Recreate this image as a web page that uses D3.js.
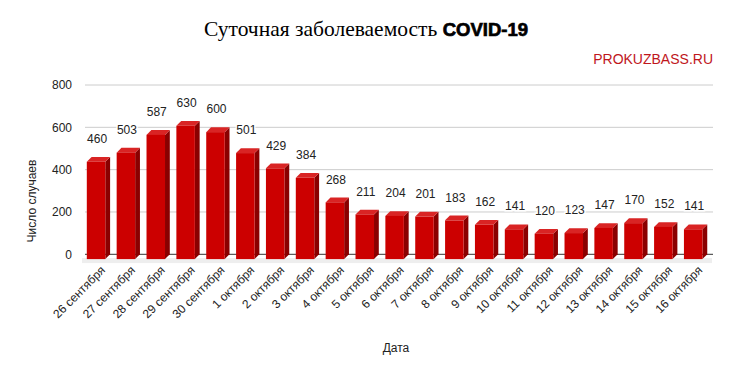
<!DOCTYPE html>
<html>
<head>
<meta charset="utf-8">
<script src="https://cdn.jsdelivr.net/npm/d3@7"></script>
<style>
  body { margin: 0; background: #fff; }
  svg { display: block; }
</style>
</head>
<body>
<div id="chart"></div>
<script>
// -------------------- Data --------------------
const dates = ["26 сентября", "27 сентября", "28 сентября", "29 сентября", "30 сентября",
    "1 октября", "2 октября", "3 октября", "4 октября", "5 октября", "6 октября",
    "7 октября", "8 октября", "9 октября", "10 октября", "11 октября", "12 октября",
    "13 октября", "14 октября", "15 октября", "16 октября"];
const cases = [460, 503, 587, 630, 600, 501, 429, 384, 268, 211, 204, 201, 183, 162,
    141, 120, 123, 147, 170, 152, 141];
const yTicks = [0, 200, 400, 600, 800];

const WIDTH = 733;
const HEIGHT = 374;
const DEPTH = 4.8; // 3d offset of the bars

const svg = d3.select("#chart")
    .append("svg")
    .attr("width", WIDTH)
    .attr("height", HEIGHT);

// scales
const x = d3.scaleBand()
    .domain(dates)
    .range([85, 712]);

const y = d3.scaleLinear()
    .domain([0, 800])
    .range([254.3, 85]);

const barW = 18.5;

// title
const title = svg.append("text")
    .attr("x", 366)
    .attr("y", 36)
    .attr("text-anchor", "middle");
title.append("tspan")
    .attr("font-family", "Liberation Serif, serif")
    .attr("font-size", 21.5)
    .text("Суточная заболеваемость ");
title.append("tspan")
    .attr("font-family", "Liberation Sans, Arial, sans-serif")
    .attr("font-weight", "bold")
    .attr("font-size", 18.5)
    .attr("stroke", "#000")
    .attr("stroke-width", 0.7)
    .text("COVID-19");

svg.append("text")
    .attr("x", 713)
    .attr("y", 64)
    .attr("text-anchor", "end")
    .attr("font-family", "Liberation Sans, Arial, sans-serif")
    .attr("font-size", 14)
    .attr("fill", "#c0161c")
    .text("PROKUZBASS.RU");

// gridlines + y tick labels
const grid = svg.append("g");
grid.selectAll("line")
    .data(yTicks)
    .join("line")
    .attr("x1", 85)
    .attr("x2", 713)
    .attr("y1", d => y(d))
    .attr("y2", d => y(d))
    .attr("stroke", d => d === 0 ? "#333" : "#cccccc")
    .attr("stroke-width", 1);

grid.selectAll("text")
    .data(yTicks)
    .join("text")
    .attr("x", 72)
    .attr("y", d => y(d))
    .attr("dy", "0.35em")
    .attr("text-anchor", "end")
    .attr("font-family", "Liberation Sans, Arial, sans-serif")
    .attr("font-size", 12)
    .attr("fill", "#222")
    .text(d => d);

// floor shadow
svg.append("rect")
    .attr("x", 82)
    .attr("y", y(0) + DEPTH - 1)
    .attr("width", 630)
    .attr("height", 5)
    .attr("fill", "#eeeeee");

// bars
const bars = svg.append("g")
    .selectAll("g")
    .data(dates.map((d, i) => ({ date: d, value: cases[i] })))
    .join("g")
    .attr("transform", d => `translate(${x(d.date) + 1.8},0)`);

// side face
bars.append("path")
    .attr("d", d => {
        const t = y(d.value) + DEPTH, b = y(0) + DEPTH;
        return `M${barW},${t} L${barW + DEPTH},${t - DEPTH} L${barW + DEPTH},${b - DEPTH} L${barW},${b} Z`;
    })
    .attr("fill", "#8a0000");

// top face
bars.append("path")
    .attr("d", d => {
        const t = y(d.value) + DEPTH;
        return `M0,${t} L${DEPTH},${t - DEPTH} L${barW + DEPTH},${t - DEPTH} L${barW},${t} Z`;
    })
    .attr("fill", "#d92424");

// front face
bars.append("rect")
    .attr("x", 0)
    .attr("y", d => y(d.value) + DEPTH)
    .attr("width", barW)
    .attr("height", d => y(0) - y(d.value))
    .attr("fill", "#cc0000");

// value labels
bars.append("text")
    .attr("x", barW / 2 + 1)
    .attr("y", d => y(d.value) - 14)
    .attr("text-anchor", "middle")
    .attr("font-family", "Liberation Sans, Arial, sans-serif")
    .attr("font-size", 12)
    .attr("fill", "#222")
    .attr("stroke", "#fff")
    .attr("stroke-width", 3)
    .attr("paint-order", "stroke")
    .text(d => d.value);

// x labels
svg.append("g")
    .selectAll("text")
    .data(dates)
    .join("text")
    .attr("transform", d => `translate(${x(d) + x.bandwidth() / 2 + 6},271) rotate(-45)`)
    .attr("text-anchor", "end")
    .attr("font-family", "Liberation Sans, Arial, sans-serif")
    .attr("font-size", 12)
    .attr("fill", "#222")
    .text(d => d);

// axis titles
svg.append("text")
    .attr("transform", "translate(36,201) rotate(-90)")
    .attr("text-anchor", "middle")
    .attr("font-family", "Liberation Sans, Arial, sans-serif")
    .attr("font-size", 12)
    .attr("fill", "#222")
    .text("Число случаев");

svg.append("text")
    .attr("x", 396)
    .attr("y", 352)
    .attr("text-anchor", "middle")
    .attr("font-family", "Liberation Sans, Arial, sans-serif")
    .attr("font-size", 12)
    .attr("fill", "#222")
    .text("Дата");
</script>
</body>
</html>
